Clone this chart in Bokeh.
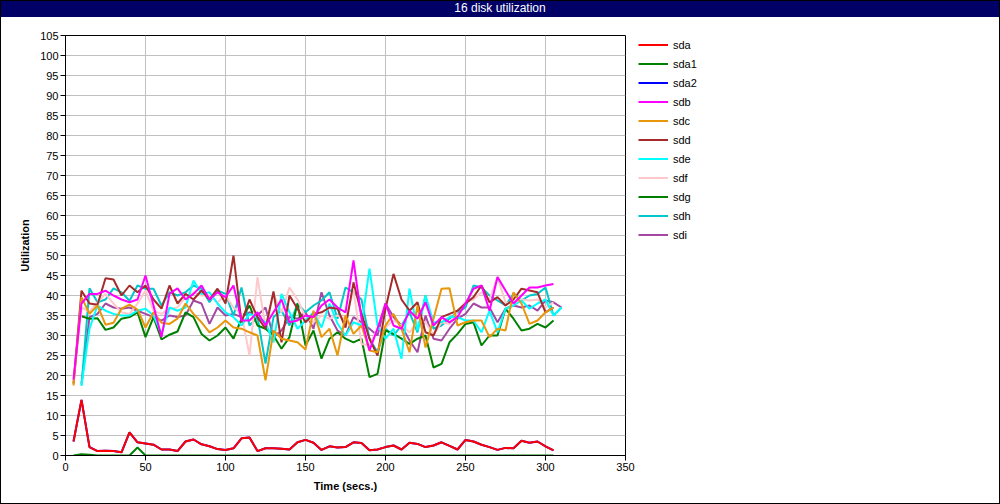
from bokeh.plotting import figure
from bokeh.models import Legend, LegendItem, Range1d, FixedTicker, Div
from bokeh.layouts import column, row
from bokeh.embed import file_html
from bokeh.resources import INLINE

# ---------------- data ----------------
t_a = list(range(5, 306, 5))    # sda, sda1, sda2, sdb, sdc, sdd, sdf
t_b = list(range(10, 311, 5))   # sde, sdh, sdi
t_g = list(range(10, 306, 5))   # sdg

sda = [3.5, 13.9, 2.1, 1.1, 1.2, 1.1, 0.8, 5.8, 3.3, 3.0, 2.7, 1.5, 1.5, 1.1, 3.5,
       4.0, 2.8, 2.3, 1.6, 1.4, 1.8, 4.3, 4.5, 1.1, 1.8, 1.8, 1.7, 1.5, 3.3, 3.9,
       3.2, 1.4, 2.3, 2.0, 2.1, 3.3, 3.1, 1.3, 1.5, 2.1, 2.5, 1.5, 3.2, 2.9, 2.1,
       2.5, 3.3, 2.4, 1.5, 3.9, 3.5, 2.7, 2.1, 1.4, 1.9, 1.8, 3.7, 3.2, 3.5, 2.3, 1.3]
sda1 = [0.0, 0.3, 0.2, 0.0, 0.0, 0.0, 0.0, 0.0, 2.0, 0.0, 0.0, 0.0, 0.0, 0.0, 0.0,
        0.0, 0.0, 0.0, 0.0, 0.0, 0.0, 0.0, 0.0, 0.0, 0.0, 0.0, 0.0, 0.0, 0.0, 0.0,
        0.0, 0.0, 0.0, 0.0, 0.0, 0.0, 0.0, 0.0, 0.0, 0.0, 0.0, 0.0, 0.0, 0.0, 0.0,
        0.0, 0.0, 0.0, 0.0, 0.0, 0.0, 0.0, 0.0, 0.0, 0.0, 0.0, 0.0, 0.0, 0.0, 0.0, 0.0]
sda2 = list(sda)
sdb = [19, 38, 40.4, 40.4, 41.2, 40, 39, 38.3, 39, 45, 37.5, 29.6, 40.4, 41.8, 39,
       40.4, 42.5, 39, 40.8, 39.6, 42.5, 33.75, 33.75, 35.8, 32.5, 35.8, 39, 33.3, 33.75, 35,
       34.6, 37.5, 39, 37, 35.8, 48.75, 34.2, 26.25, 31.7, 38, 32.5, 31.7, 36.2, 34.2, 38.3, 32.5,
       34.6, 33.3, 34.6, 38, 41.7, 42.5, 36.2, 44.6, 41.25, 38, 40, 42, 42, 42.5, 42.9]
sdc = [17.5, 39.6, 35.4, 37.5, 32.7, 33.2, 36.7, 37.7, 36.5, 32, 35.8, 33.2, 32.9, 34.2, 38,
       35.4, 33.3, 30.8, 32, 33.75, 32, 31.7, 30.8, 30, 18.8, 31.25, 29.2, 28.75, 28.3, 26.5,
       36.2, 29.6, 31.7, 25, 35, 30.4, 32.5, 26.25, 25.8, 32.5, 35.4, 31.7, 25.8, 37.5, 27, 34.2,
       41.7, 41.8, 32.5, 33.3, 33.75, 33.75, 29.6, 31.7, 31.25, 40.8, 38, 32.9, 33.75, 35.8, 37]
sdd = [18, 41.2, 38, 37.7, 44.3, 44, 40, 42.5, 40.8, 42.5, 39, 36.7, 42.5, 38, 40.4,
       39, 41.25, 39, 41.7, 38, 50, 33.3, 39, 34.6, 31.7, 41, 28.3, 40, 36.7, 33.3,
       35.4, 35.8, 37, 36.7, 32, 43.3, 35.4, 29.2, 25, 36.7, 45.4, 39, 36.2, 38.3, 30.8, 30,
       34.6, 35.4, 36.2, 38, 39.6, 42.5, 38.3, 39.6, 37.5, 39, 41.7, 41.25, 40.8, 35.8, 37]
sde = [17.5, 31.7, 37.5, 36.2, 35.4, 35, 35, 36.2, 36.7, 35, 30.4, 37, 36.2, 37,
       43.75, 40.4, 40.8, 38, 35.8, 34.6, 32.5, 35.4, 34.6, 33.3, 28.3, 40.4, 35.8, 31.7, 33.75,
       35.8, 32, 38, 33, 30, 33.3, 32.5, 46.7, 32.5, 29.2, 31.7, 24.2, 41.7, 31.25, 40, 33.3,
       33.3, 34.6, 34.6, 33.75, 33.75, 30.8, 36.2, 30.8, 36.7, 37.5, 38.75, 36.7, 38, 39, 35, 37]
sdf = [18, 37, 36, 38.3, 40.4, 38, 35.8, 35.4, 38, 41.2, 36.2, 35.4, 36.7, 37, 39.6,
       40.8, 40, 40, 38.3, 40, 37, 35.4, 25, 44.6, 32, 40.4, 35.8, 42, 39, 34.6,
       33.3, 35, 34.2, 35, 34.2, 41.25, 27.9, 27.5, 31.7, 32, 33.75, 32.5, 30.8, 33.3, 33.3, 30,
       33.3, 32.9, 36.2, 38.3, 39, 40.8, 39, 44.6, 38.3, 38, 39, 38.75, 39, 37, 38.3]
sdg = [34.8, 34.2, 34.3, 31.4, 32, 34.2, 34.6, 35.8, 29.6, 34.6, 29, 30.2, 31, 35.8,
       34.6, 30.4, 28.75, 30, 32, 29.2, 34.2, 37.5, 32.5, 31.7, 30, 26.7, 29.6, 38, 27.5,
       31.25, 24.2, 29.2, 30.8, 29.2, 28.3, 29.2, 19.6, 20.4, 31.25, 30.4, 29.2, 27.9, 29.2, 30, 22,
       22.9, 28.3, 30.4, 32.9, 33.3, 27.5, 30, 30, 36.7, 34.2, 31.25, 31.7, 32.9, 32, 33.75]
sdh = [17.5, 41.8, 38.3, 39, 41.8, 40.8, 38.7, 42.5, 41.7, 41.7, 37.5, 40.8, 40, 40.8,
       42.5, 41.7, 38.3, 41.25, 40.4, 35, 42, 32.5, 34.6, 23, 34.6, 36.25, 32.5, 38, 35.8,
       37.5, 38.75, 40.8, 34.2, 42, 40.8, 39, 29.2, 25.8, 31.7, 30, 32.5, 35.8, 30.8, 40, 31.7,
       32.5, 34.2, 35.8, 37, 42.5, 42, 40, 38.75, 37.5, 40.4, 38.75, 40, 40.4, 42, 35, 37]
sdi = [18, 34.6, 35.4, 38, 37, 36.7, 37, 36.2, 35.4, 34.6, 33.7, 35, 34.6, 35,
       38.75, 38, 32.9, 37, 35, 35.4, 34.6, 35.8, 35, 37, 29.6, 31.25, 34.6, 34.2, 35.8,
       31.7, 40.8, 35, 31.25, 30, 34.6, 33.3, 31.7, 30, 38, 34.6, 32.5, 28.75, 25.8, 35, 29.2,
       28.75, 31.7, 34.2, 35.4, 38, 37, 37, 33.3, 36.7, 37.5, 37, 37.5, 36.2, 38.75, 38.3, 37]

names = ["sda", "sda1", "sda2", "sdb", "sdc", "sdd", "sde", "sdf", "sdg", "sdh", "sdi"]
series = [sda, sda1, sda2, sdb, sdc, sdd, sde, sdf, sdg, sdh, sdi]
times = [t_a, t_a, t_a, t_a, t_a, t_a, t_b, t_a, t_g, t_b, t_b]
colors = ["#FF0000", "#008000", "#0000FF", "#FF00FF", "#E8960A", "#A52A2A",
          "#00FFFF", "#FFC8CB", "#008000", "#00C8C8", "#A349A4"]

y_ticks = list(range(0, 106, 5))
x_ticks = list(range(0, 351, 50))

TITLE = "16 disk utilization"
NAVY = "#000066"
FONT = "Liberation Sans"

# page geometry (pixels)
W, H = 1000, 504
BAR_H = 17
ML, MT, FW, FH = 65, 35 - BAR_H, 560, 420
MR = 12                          # room for the last x tick label
PW = ML + FW + MR                # width of the chart figure
LW = W - PW                      # width of the legend figure
PH = H - BAR_H
MB = PH - MT - FH


def kill_title(fig):
    fig.title.text_font_size = "1px"
    fig.title.standoff = 0
    fig.title.visible = False


# ---------------- title bar ----------------
bar = Div(text=TITLE, width=W, height=BAR_H, margin=0, styles={
    "background-color": NAVY, "color": "#ffffff", "text-align": "center",
    "font-family": FONT, "font-size": "12px", "line-height": f"{BAR_H}px",
    "box-shadow": "inset 0 1px 0 0 #000, inset 1px 0 0 0 #000, inset -1px 0 0 0 #000",
})

# ---------------- chart ----------------
p = figure(width=PW, height=PH, toolbar_location=None, output_backend="svg",
           x_range=Range1d(0, 350), y_range=Range1d(0, 105),
           min_border_left=ML, min_border_right=MR, min_border_top=MT, min_border_bottom=MB)
kill_title(p)
p.background_fill_color = "white"
p.border_fill_alpha = 0
p.outline_line_color = "black"
p.outline_line_width = 1
p.styles = {"background": "#ffffff",
            "box-shadow": "inset 1px 0 0 0 #000, inset 0 -1px 0 0 #000"}

p.xaxis.ticker = FixedTicker(ticks=x_ticks)
p.yaxis.ticker = FixedTicker(ticks=y_ticks)
for ax in (p.xaxis[0], p.yaxis[0]):
    ax.axis_line_color = "black"
    ax.major_tick_line_color = "black"
    ax.major_tick_out = 5
    ax.major_tick_in = 0
    ax.minor_tick_line_color = None
    ax.major_label_text_font = FONT
    ax.major_label_text_font_size = "11px"
    ax.major_label_text_color = "black"
    ax.major_label_standoff = 2
    ax.axis_label_text_font = FONT
    ax.axis_label_text_font_size = "11px"
    ax.axis_label_text_font_style = "bold"
    ax.axis_label_text_color = "black"
    ax.axis_label_standoff = 6
p.xaxis.axis_label = "Time (secs.)"
p.yaxis.axis_label = "Utilization"
p.grid.grid_line_color = "#C0C0C0"
p.grid.grid_line_width = 1

for name, t, v, c in reversed(list(zip(names, times, series, colors))):
    p.line(t, v, line_color=c, line_width=2)

# ---------------- legend panel ----------------
lg = figure(width=LW, height=PH, toolbar_location=None, output_backend="svg",
            x_axis_type=None, y_axis_type=None,
            x_range=Range1d(0, 1), y_range=Range1d(0, 1),
            min_border_left=0, min_border_right=0, min_border_top=MT, min_border_bottom=MB)
kill_title(lg)
lg.grid.visible = False
lg.outline_line_color = None
lg.background_fill_alpha = 0
lg.border_fill_alpha = 0
lg.styles = {"background": "#ffffff",
             "box-shadow": "inset -1px 0 0 0 #000, inset 0 -1px 0 0 #000"}

nan = float("nan")
items = []
for name, c in zip(names, colors):
    r = lg.line([nan], [nan], line_color=c, line_width=2)   # legend swatch only
    items.append(LegendItem(label=name, renderers=[r]))
legend = Legend(items=items, location=(13 - MR, FH - 11 * 19), border_line_color=None,
                background_fill_alpha=0, label_text_font=FONT, label_text_font_size="11px",
                label_text_color="black",
                glyph_width=30, glyph_height=19, label_height=19, spacing=0,
                padding=0, margin=0, label_standoff=5)
lg.add_layout(legend, "center")

layout = column(bar, row(p, lg, spacing=0), spacing=0)
open("out.html", "w").write(file_html(layout, INLINE, title=TITLE))
